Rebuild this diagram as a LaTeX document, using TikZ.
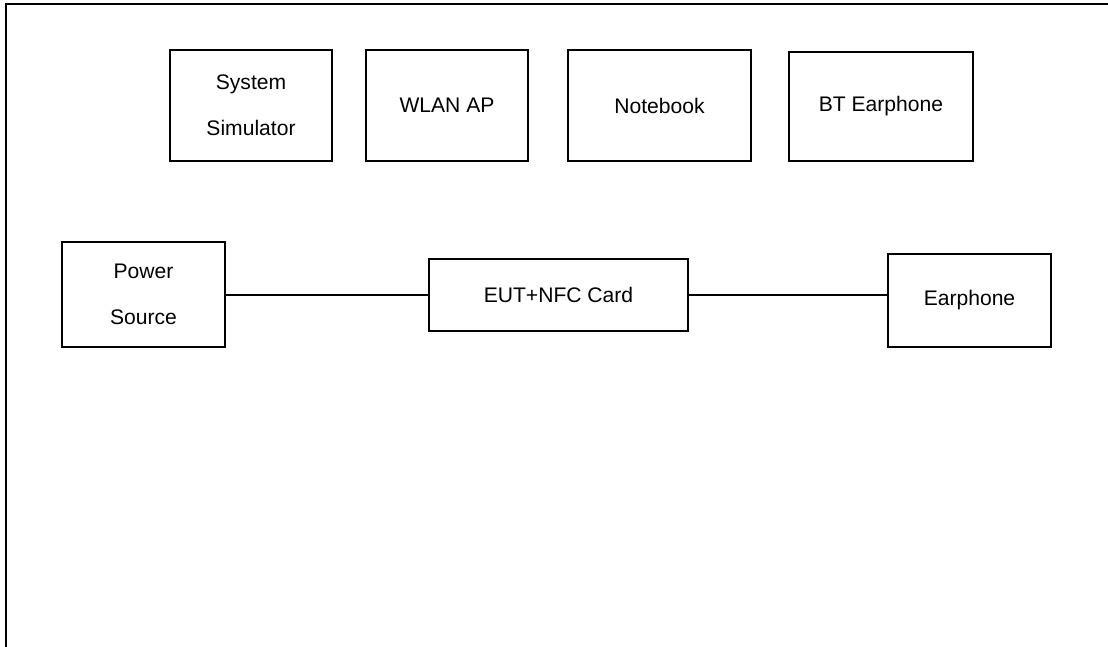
\documentclass[tikz,border=0pt]{standalone}
\usepackage{fontspec}
\setmainfont{Liberation Sans}
\usepackage{tikz}
\usetikzlibrary{positioning}

\tikzset{
    unitbox/.style={draw=black, line width=0.6pt, align=center, inner sep=0pt,
        font=\fontsize{12}{26}\selectfont},
    cable/.style={draw=black, line width=0.7pt}
}

\begin{document}
\begin{tikzpicture}
            \useasboundingbox (0,0) rectangle (22.16,-12.94);
            \draw[line width=1.6pt] (0.12,-12.94) -- (0.12,-0.08) -- (22.16,-0.08);
            \node[unitbox, minimum width=3.24cm, minimum height=2.22cm] (sim) at (5.02,-2.11) {System\\Simulator};
            \node[unitbox, minimum width=3.24cm, minimum height=2.22cm] (wlan) at (8.94,-2.11) {WLAN AP};
            \node[unitbox, minimum width=3.66cm, minimum height=2.22cm] (note) at (13.19,-2.11) {Notebook};
            \node[unitbox, minimum width=3.68cm, minimum height=2.18cm] (bt) at (17.62,-2.13) {BT Earphone};
            \node[unitbox, minimum width=3.26cm, minimum height=2.1cm] (power) at (2.87,-5.89) {Power\\Source};
            \node[unitbox, minimum width=5.18cm, minimum height=1.44cm] (eut) at (11.17,-5.9) {EUT+NFC Card};
            \node[unitbox, minimum width=3.26cm, minimum height=1.86cm] (ear) at (19.39,-6.01) {Earphone};
            \draw[cable] (power.east |- eut.west) -- (eut.west);
            \draw[cable] (eut.east) -- (eut.east -| ear.west);
        \end{tikzpicture}
\end{document}
